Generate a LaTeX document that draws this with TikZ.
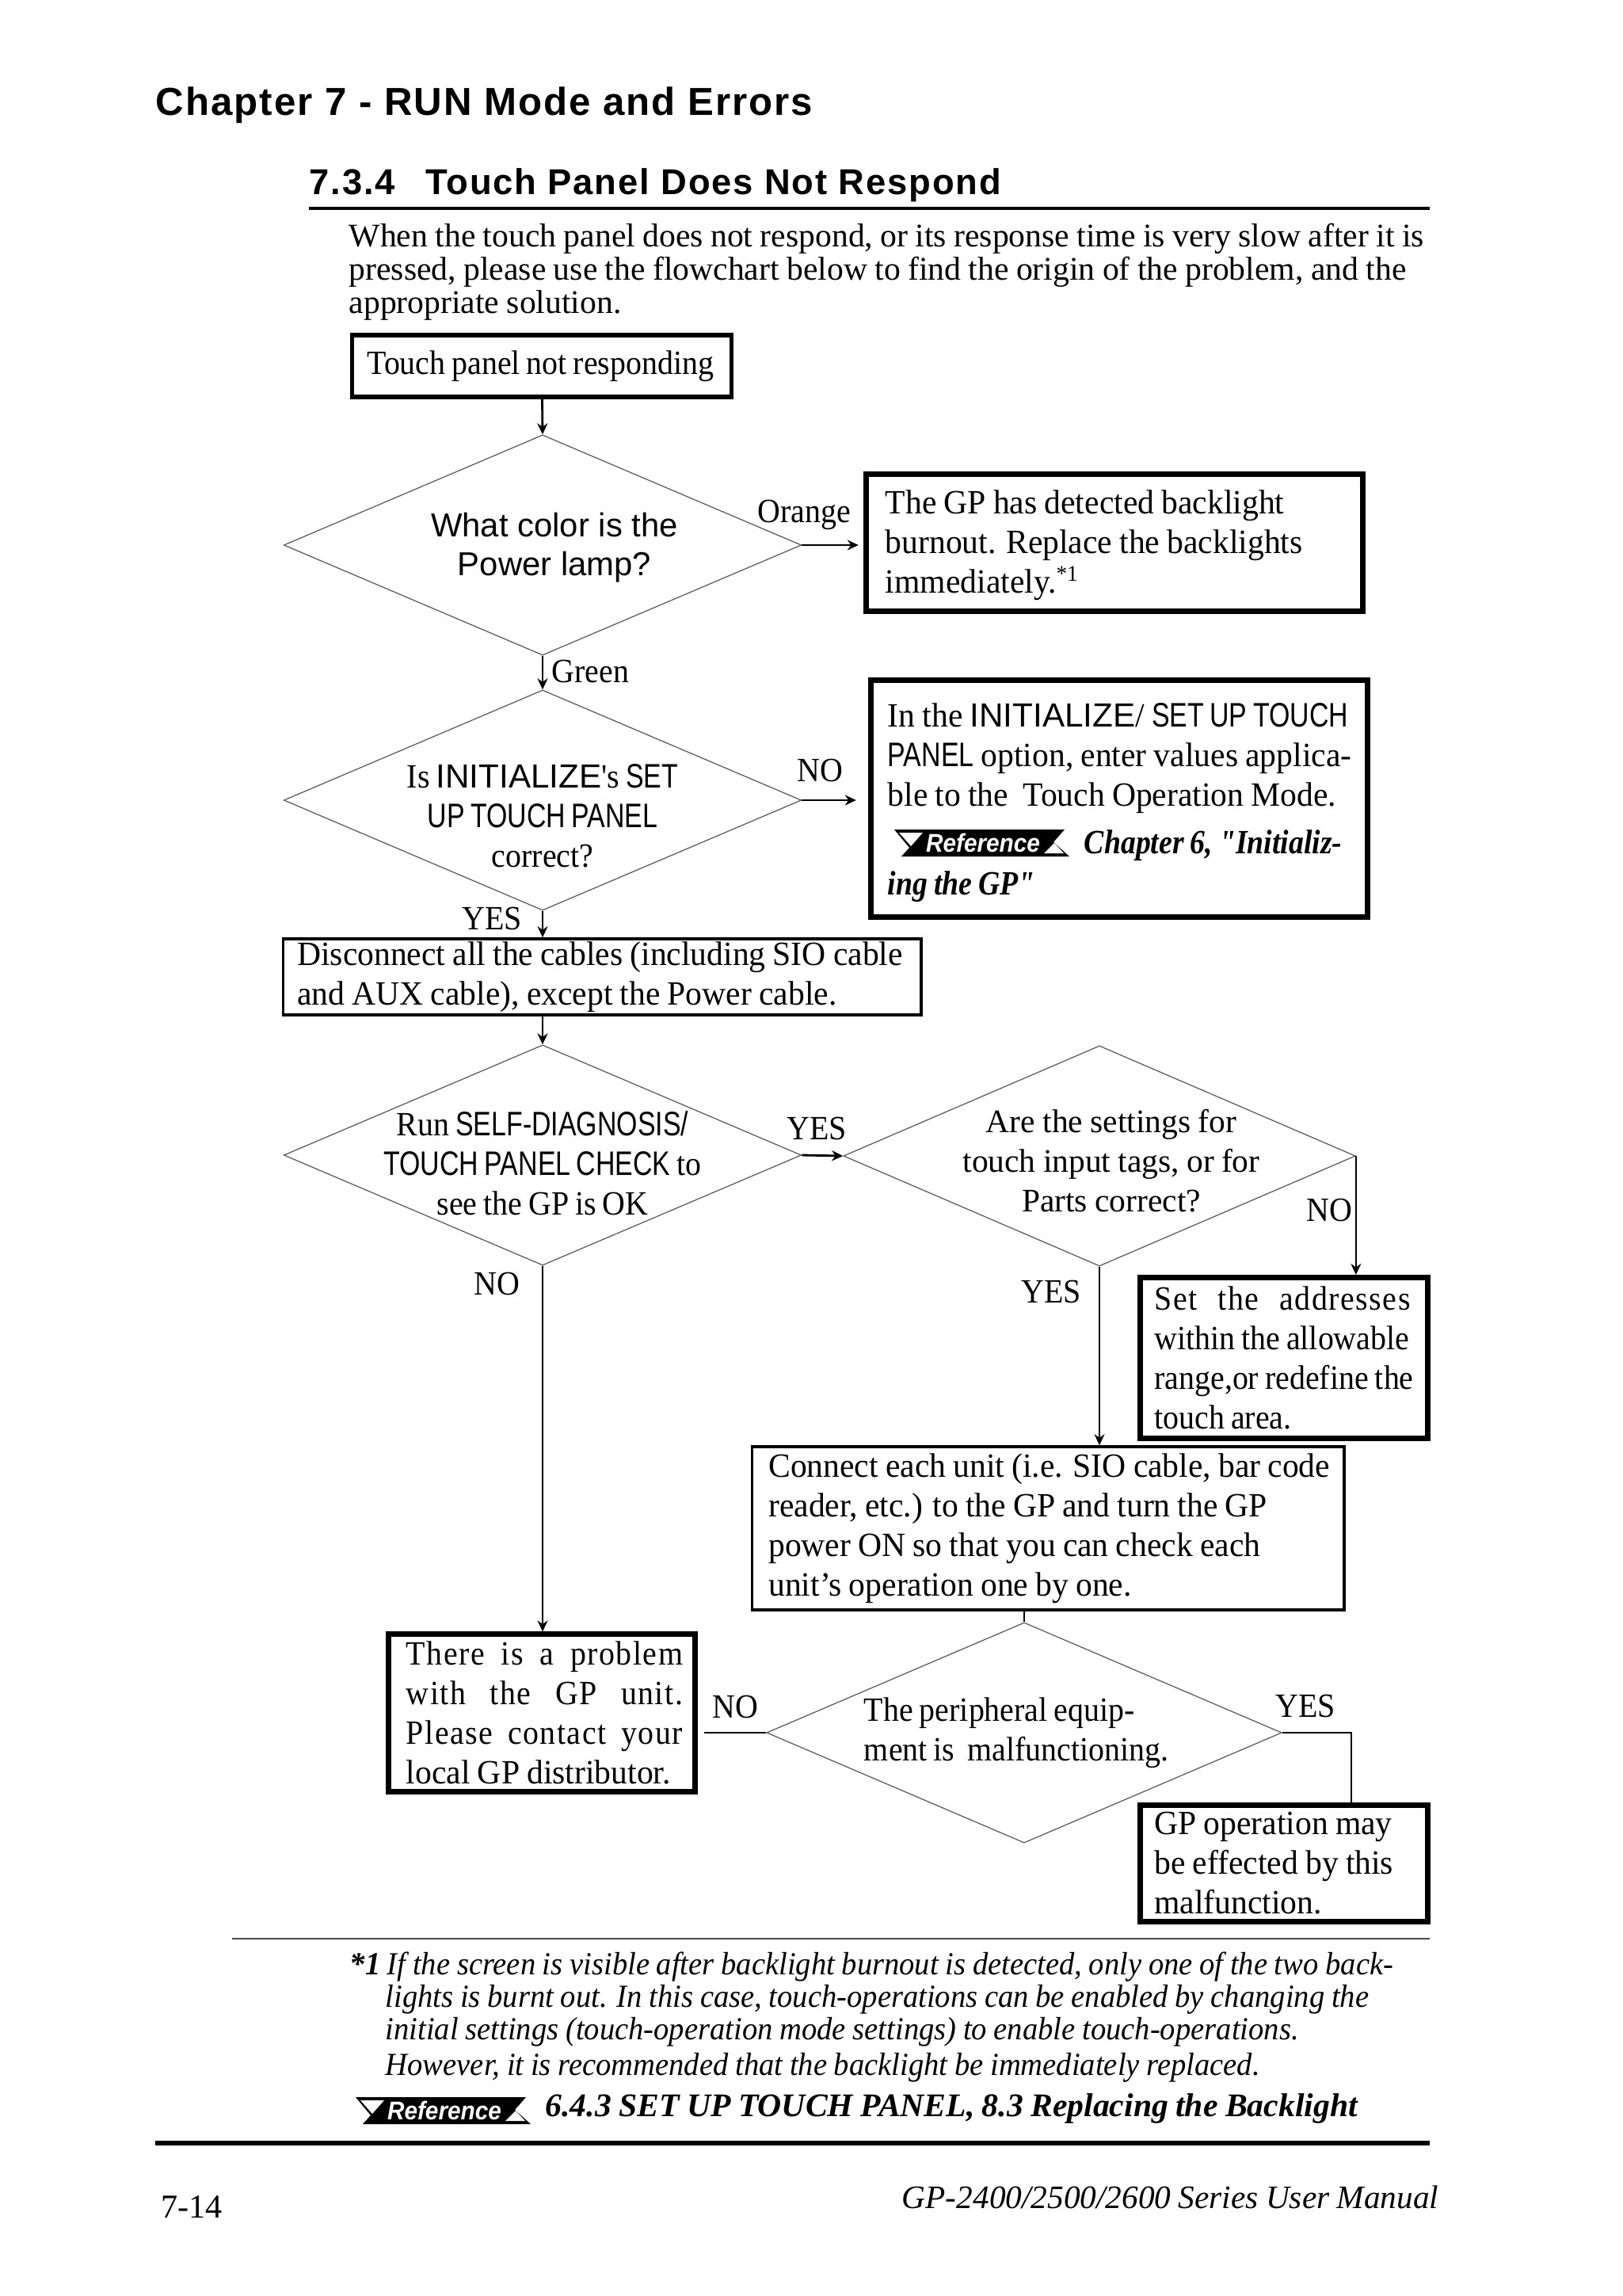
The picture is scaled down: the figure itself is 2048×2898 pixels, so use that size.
\documentclass[tikz,border=0pt]{standalone}
\usepackage{fontspec}
\setmainfont[FakeStretch=0.93,WordSpace=0.8,Ligatures=TeXOff]{Liberation Serif}
\newfontfamily\fullrm[WordSpace=0.9]{Liberation Serif}
\newfontfamily\boxrm[FakeStretch=0.97,WordSpace=0.88,Ligatures=TeXOff]{Liberation Serif}
\newfontfamily\refrm[FakeStretch=0.88,WordSpace=0.85]{Liberation Serif}
\newfontfamily\noterm[FakeStretch=0.95,WordSpace=0.9]{Liberation Serif}
\newfontfamily\headsf[LetterSpace=4]{Liberation Sans}
\newfontfamily\plainsf{Liberation Sans}
\newfontfamily\narrowsf[FakeStretch=0.79,WordSpace=0.8]{Liberation Sans}
\newfontfamily\refsf[FakeStretch=0.92]{Liberation Sans}
\newfontfamily\widerm[FakeStretch=0.93,LetterSpace=3.5]{Liberation Serif}
\usetikzlibrary{arrows.meta,positioning,shapes.geometric}
\newcommand{\Csf}[1]{{\narrowsf #1}}
\newcommand{\Isf}{{\plainsf\fontsize{12}{14}\selectfont INITIALIZE}}
\newcommand{\Wline}[2]{\makebox[#1][s]{\widerm #2}}
\tikzset{
  arr/.style={-{Stealth[length=1.4mm,width=1.3mm]}, line width=0.8pt},
  arrlong/.style={arr, line width=0.5pt},
  wire/.style={line width=0.4pt},
  dia/.style={diamond, draw=black!65, line width=0.35pt, inner sep=0pt,
              minimum width=6.53cm, minimum height=2.78cm},
  boxtxt/.style={rectangle, draw, align=flush left, inner ysep=0pt, inner xsep=0.02cm,
                 font=\boxrm\fontsize{12.2}{14.2}\selectfont},
  lpad/.style={execute at begin node={\leftskip=#1\relax}},
  thinb/.style={boxtxt, line width=1pt},
  medb/.style={boxtxt, line width=1.5pt},
  thickb/.style={boxtxt, line width=2pt},
  dtxt/.style={align=center, inner sep=0pt, font=\fontsize{12.2}{14.2}\selectfont},
  lbl/.style={inner sep=0pt, font=\fontsize{12.2}{14.2}\selectfont},
  para/.style={anchor=north west, align=left, inner sep=0pt},
  refbadge/.pic={
    \fill (0,0) -- (215,0) -- (201,16) -- (221,34) -- (9,34) -- (19,23) -- cycle;
    \fill[white] (6,4) -- (36,4) -- (21,21) -- cycle;
    \fill[white] (189,30) -- (214,30) -- (202,17) -- cycle;
    \node[text=white, inner sep=0pt, font=\refsf\bfseries\itshape\fontsize{9.2}{11}\selectfont] (reftxt) at (112,17) {Reference};
  },
}
\begin{document}
\begin{tikzpicture}[x=0.01cm, y=-0.01cm]
  \useasboundingbox (0,0) rectangle (2048,2898);
  % page heads
  \node[anchor=base west, inner sep=0pt, font=\headsf\bfseries\fontsize{14}{16}\selectfont] (chap) at (196,146) {Chapter 7 - RUN Mode and Errors};
  \node[anchor=base west, inner sep=0pt, font=\headsf\bfseries\fontsize{12.9}{16}\selectfont] (sect) at (390,246) {7.3.4\hspace{0.85em}Touch Panel Does Not Respond};
  \draw[line width=1.2pt] (390,263) -- (1805,263);
  \node[para, font=\fullrm\fontsize{11.85}{12.05}\selectfont] (intro) at (440,281) {When the touch panel does not respond, or its response time is very slow after it is\\
    pressed, please use the flowchart below to find the origin of the problem, and the\\
    appropriate solution.};
  % decisions
  \node[dia] (dlamp) at (685,688) {};
  \node[dia] (dinit) at (685,1010) {};
  \node[dia] (dself) at (685,1458) {};
  \node[dia, minimum width=6.46cm] (dtags) at (1388,1459) {};
  \node[dia, minimum width=6.5cm] (dperi) at (1293,2187) {};
  \node[dtxt, font=\plainsf\fontsize{11.9}{14}\selectfont] (tlamp) at (700,691) {What color is the\\Power lamp?};
  \node[dtxt] (tinit) at (685,1030) {Is \Isf's \Csf{SET}\\\Csf{UP TOUCH PANEL}\\correct?};
  \node[dtxt] (tself) at (685,1468) {Run \Csf{SELF-DIAGNOSIS/}\\\Csf{TOUCH PANEL CHECK} to\\see the GP is OK};
  \node[dtxt, font=\fullrm\fontsize{11.8}{14.2}\selectfont] (ttags) at (1403,1465) {Are the settings for\\touch input tags, or for\\Parts correct?};
  \node[dtxt, align=left] (tperi) at (1283,2187) {The peripheral equip-\\ment is\ \ malfunctioning.};
  % boxes
  \node[medb, minimum width=4.79cm, minimum height=0.78cm, text width=4.67cm, lpad=0.13cm, font=\fontsize{12.2}{14.2}\selectfont] (bstart) at (684,462) {Touch panel not responding};
  \node[thickb, minimum width=6.27cm, minimum height=1.73cm, text width=6.14cm, lpad=0.18cm] (bburn) at (1407,685) {\rule{0pt}{10.5pt}The GP has detected backlight\\burnout. Replace the backlights\\immediately.\textsuperscript{\fontsize{8}{8}\selectfont*1}};
  \node[thickb, minimum width=6.27cm, minimum height=2.99cm, text width=6.14cm, lpad=0.15cm] (bmode) at (1413,1008) {\rule{0pt}{11.4pt}In the \Isf/ \Csf{SET UP TOUCH}\\\Csf{PANEL} option, enter values applica-\\ble to the\ \ Touch Operation Mode.\\[3pt]\hspace*{2.48cm}{\refrm\bfseries\itshape Chapter 6, "Initializ-}\\[0.5pt]{\refrm\bfseries\itshape ing the GP"}};
  \node[thinb, minimum width=8.05cm, minimum height=0.96cm, text width=7.95cm, lpad=0.13cm] (bdisc) at (760,1233) {Disconnect all the cables (including SIO cable\\and AUX cable), except the Power cable.};
  \node[thickb, minimum width=3.62cm, minimum height=2.03cm, text width=3.49cm, lpad=0.11cm, font=\fontsize{12.2}{14.2}\selectfont] (baddr) at (1621,1714) {\Wline{3.23cm}{Set the addresses}\\within the allowable\\range,or redefine the\\touch area.};
  \node[thinb, minimum width=7.47cm, minimum height=2.06cm, text width=7.37cm, lpad=0.16cm] (bunit) at (1323,1929) {Connect each unit (i.e. SIO cable, bar code\\reader, etc.) to the GP and turn the GP\\power ON so that you can check each\\unit’s operation one by one.};
  \node[thickb, minimum width=3.87cm, minimum height=1.98cm, text width=3.74cm, lpad=0.16cm] (bfail) at (684,2162) {\Wline{3.49cm}{There is a problem}\\\Wline{3.49cm}{with the GP unit.}\\\Wline{3.49cm}{Please contact your}\\local GP distributor.};
  \node[thickb, minimum width=3.62cm, minimum height=1.47cm, text width=3.49cm, lpad=0.11cm] (beff) at (1621,2352) {GP operation may\\be effected by this\\malfunction.};
  \pic at (1129,1047) {refbadge};
  % connectors
  \coordinate (cnostub) at (889,2187);
  \draw[arr] (bstart) -- (dlamp.north);
  \draw[arr, shorten >=0.06cm] (dlamp.east) -- (bburn.west |- dlamp.east);
  \draw[arr] (dlamp.south) -- (dinit.north);
  \draw[arr, shorten >=0.15cm] (dinit.east) -- (bmode.west |- dinit.east);
  \draw[arr] (dinit.south) -- (dinit.south |- bdisc.north);
  \draw[arr] (dinit.south |- bdisc.south) -- (dself.north);
  \draw[arr] (dself.east) -- (dtags.west);
  \draw[arrlong] (dtags.east) -- (dtags.east |- baddr.north);
  \draw[arrlong] (dtags.south) -- (dtags.south |- bunit.north);
  \draw[arrlong] (dself.south) -- (dself.south |- bfail.north);
  \draw[wire] (dperi.north |- bunit.south) -- (dperi.north);
  \draw[wire] (dperi.west) -- (cnostub);
  \coordinate (cyesturn) at (1706,2187);
  \draw[wire] (dperi.east) -- (cyesturn) -- (cyesturn |- beff.north);
  % connector labels
  \node[lbl] (lorange) at (1015,650) {Orange};
  \node[lbl, anchor=west] (lgreen) at (696,848) {Green};
  \node[lbl] (lno1) at (1035,973) {NO};
  \node[lbl] (lyes1) at (621,1160) {YES};
  \node[lbl] (lyes2) at (1031,1424) {YES};
  \node[lbl] (lno2) at (627,1620) {NO};
  \node[lbl] (lno3) at (1678,1527) {NO};
  \node[lbl] (lyes3) at (1327,1630) {YES};
  \node[lbl] (lno4) at (928,2154) {NO};
  \node[lbl] (lyes4) at (1648,2153) {YES};
  % notes
  \draw[line width=0.5pt, black!70] (293,2447) -- (1805,2447);
  \node[para, font=\noterm\itshape\fontsize{11.55}{11.7}\selectfont] (fnote) at (441,2463) {{\bfseries *1} If the screen is visible after backlight burnout is detected, only one of the two back-\\
    \hspace{0.45cm}lights is burnt out. In this case, touch-operations can be enabled by changing the\\
    \hspace{0.45cm}initial settings (touch-operation mode settings) to enable touch-operations.\\[1.2pt]
    \hspace{0.45cm}However, it is recommended that the backlight be immediately replaced.};
  \pic at (449,2647) {refbadge};
  \node[anchor=base west, inner sep=0pt, font=\fullrm\bfseries\itshape\fontsize{11.85}{14}\selectfont] (fref) at (688,2671) {6.4.3 SET UP TOUCH PANEL, 8.3 Replacing the Backlight};
  \draw[line width=1.7pt] (196,2705) -- (1805,2705);
  \node[anchor=base west, inner sep=0pt, font=\fullrm\fontsize{12}{14}\selectfont] (pageno) at (203,2799) {7-14};
  \node[anchor=base east, inner sep=0pt, font=\fullrm\itshape\fontsize{11.75}{14}\selectfont] (manual) at (1817,2787) {GP-2400/2500/2600 Series User Manual};
\end{tikzpicture}
\end{document}
